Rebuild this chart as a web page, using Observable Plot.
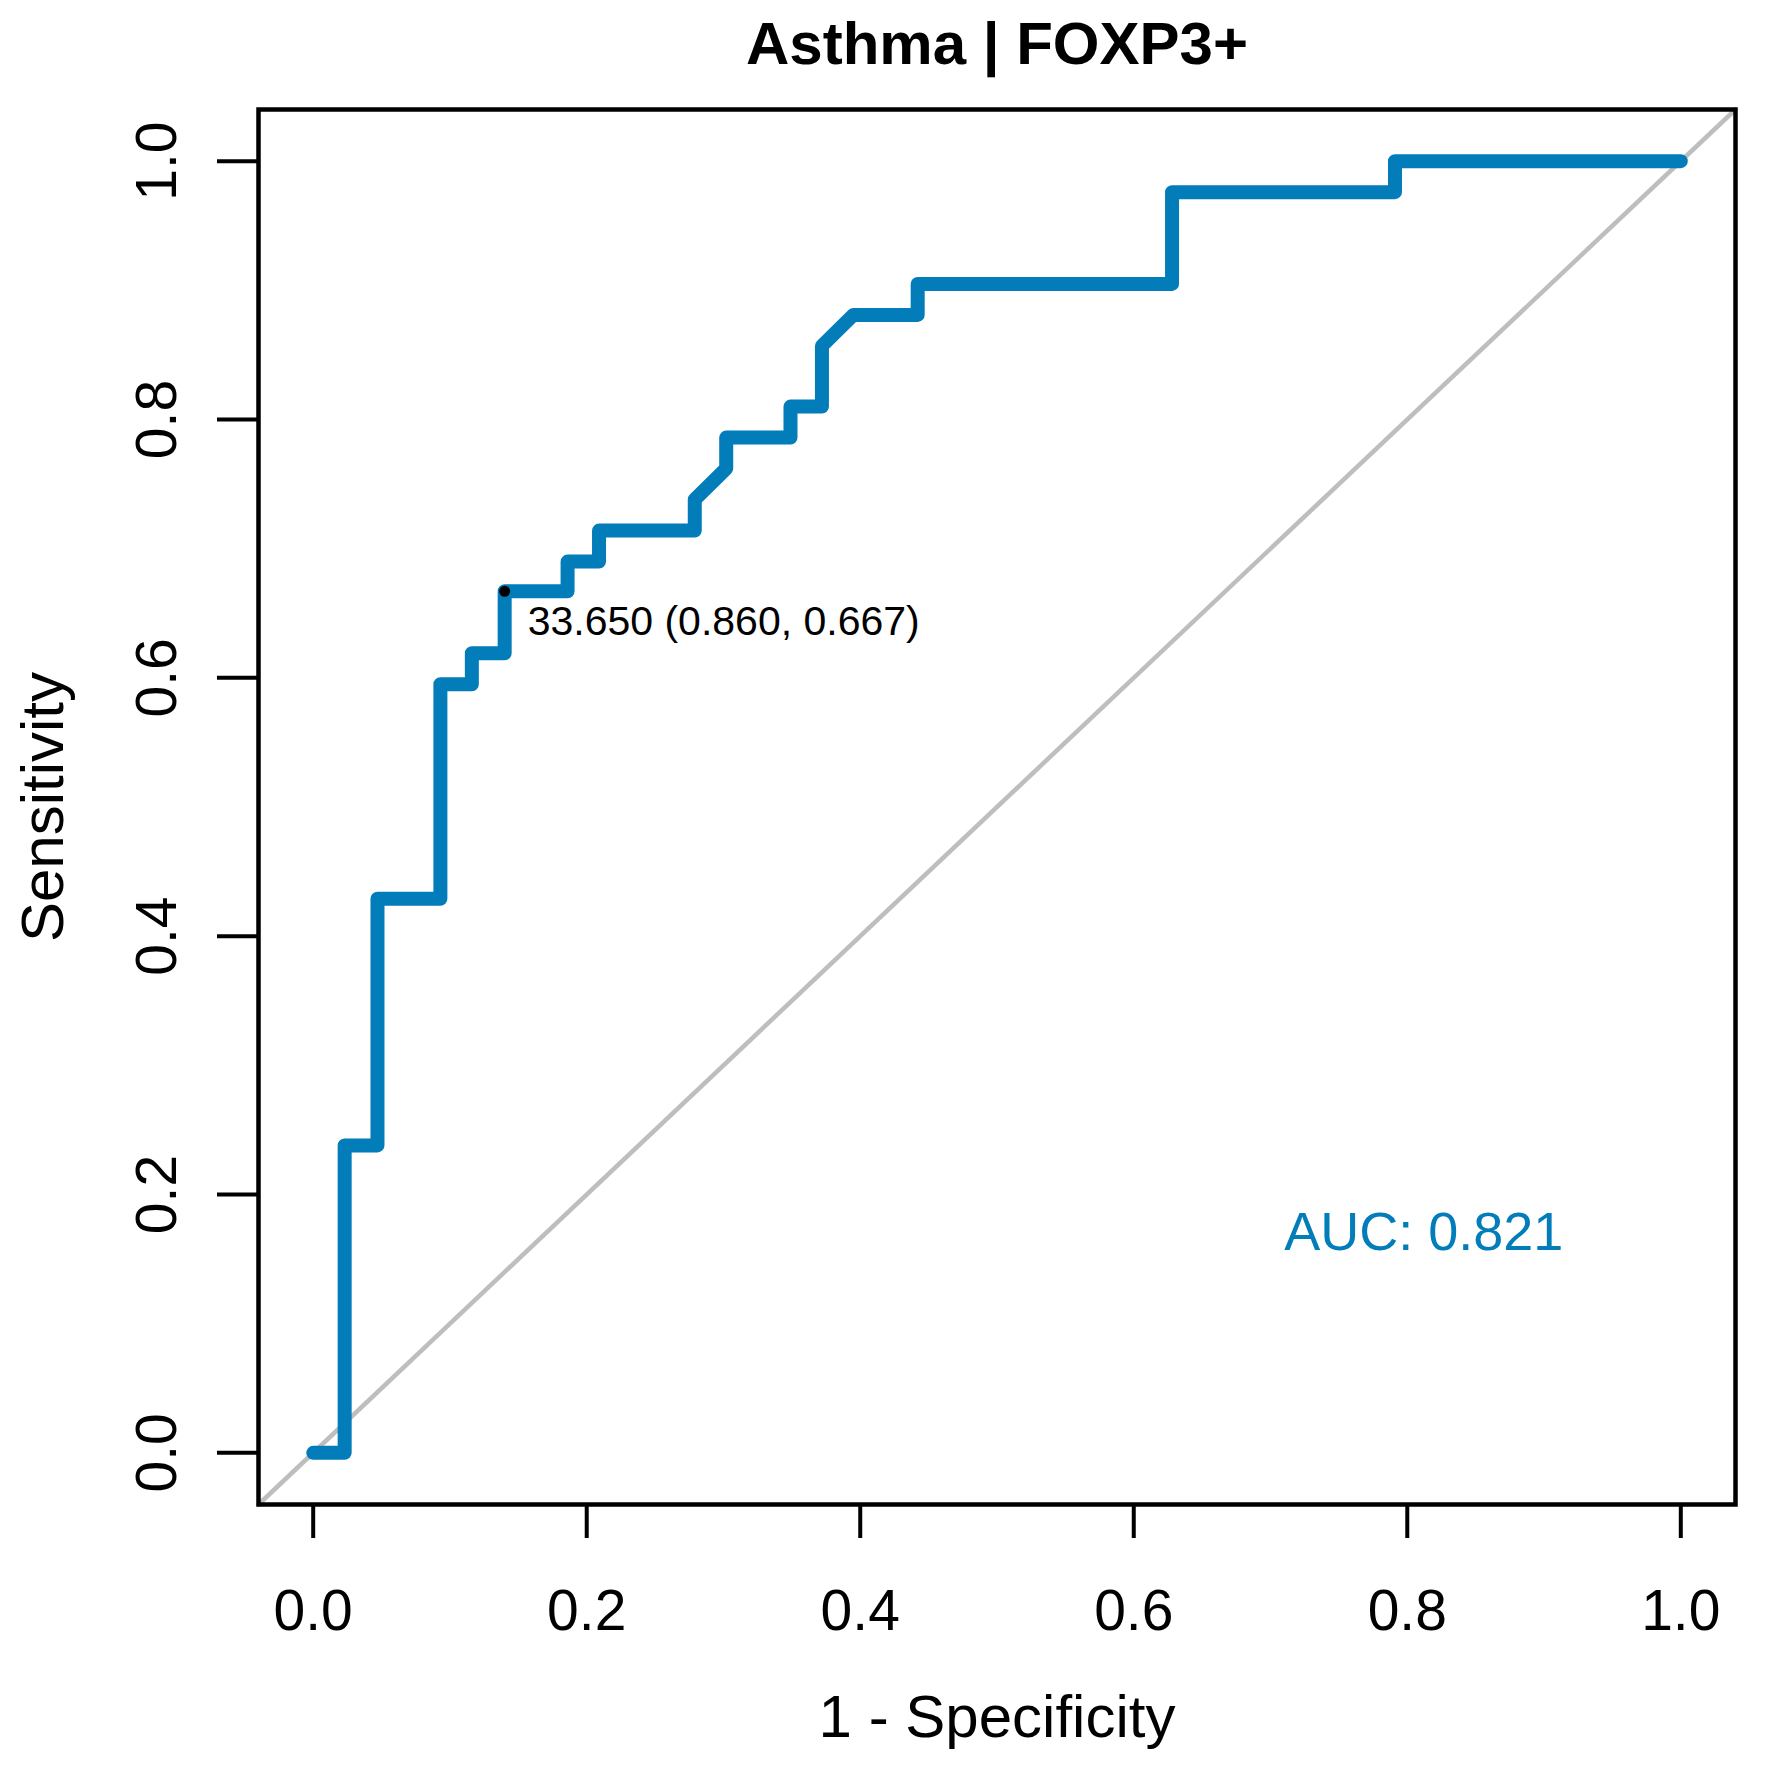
<!DOCTYPE html>
<html>
<head>
<meta charset="utf-8">
<script src="https://cdn.jsdelivr.net/npm/d3@7"></script>
<script src="https://cdn.jsdelivr.net/npm/@observablehq/plot@0.6"></script>
<style>
  html, body { margin: 0; padding: 0; background: #ffffff; }
</style>
</head>
<body>
<div id="chart"></div>
<script>
// ROC curve vertices (1 - specificity, sensitivity)
const fpr = [0.000, 0.023, 0.023, 0.047, 0.047, 0.093, 0.093, 0.116, 0.116, 0.140, 0.140,
             0.186, 0.186, 0.209, 0.209, 0.279, 0.279, 0.302, 0.302, 0.349, 0.349, 0.372,
             0.372, 0.395, 0.442, 0.442, 0.628, 0.628, 0.791, 0.791, 1.000];
const tpr = [0.000, 0.000, 0.238, 0.238, 0.429, 0.429, 0.595, 0.595, 0.619, 0.619, 0.667,
             0.667, 0.690, 0.690, 0.714, 0.714, 0.738, 0.762, 0.786, 0.786, 0.810, 0.810,
             0.857, 0.881, 0.881, 0.905, 0.905, 0.976, 0.976, 1.000, 1.000];

const xTicks = [0.0, 0.2, 0.4, 0.6, 0.8, 1.0];
const yTicks = [0.0, 0.2, 0.4, 0.6, 0.8, 1.0];
const axisDomain = [-0.04, 1.04];

const thresholdPoint = [{x: 0.140, y: 0.667, label: "33.650 (0.860, 0.667)"}];
const aucLabel = [{x: 0.71, y: 0.157, label: "AUC: 0.821"}];

const titleText = ["Asthma | FOXP3+"];
const xLabelText = ["1 - Specificity"];
const yLabelText = ["Sensitivity"];

const blue = "#027DBA";
const grey = "#BEBEBE";

const rocData = fpr.map((x, i) => ({x, y: tpr[i]}));
const diagData = axisDomain.map(d => ({x: d, y: d}));
const fmt = d => d.toFixed(1);

const chart = Plot.plot({
  width: 1769,
  height: 1769,
  marginLeft: 258,
  marginRight: 34,
  marginTop: 109,
  marginBottom: 265,
  style: {
    fontFamily: "'Liberation Sans', Arial, Helvetica, sans-serif",
    color: "black",
    background: "white"
  },
  x: {domain: axisDomain, label: null},
  y: {domain: axisDomain, label: null},
  marks: [
    Plot.line(diagData, {x: "x", y: "y", stroke: grey, strokeWidth: 4.5}),
    Plot.line(rocData, {x: "x", y: "y", stroke: blue, strokeWidth: 14,
                        strokeLinejoin: "round", strokeLinecap: "round"}),
    Plot.dot(thresholdPoint, {x: "x", y: "y", r: 5.5, fill: "black"}),
    Plot.text(thresholdPoint, {x: "x", y: "y", text: "label", dx: 23, dy: 44,
                               textAnchor: "start", lineAnchor: "bottom", fontSize: 41, fill: "black"}),
    Plot.text(aucLabel, {x: "x", y: "y", text: "label", textAnchor: "start",
                         lineAnchor: "bottom", fontSize: 54, fill: blue}),
    Plot.frame({stroke: "black", strokeWidth: 4.5}),
    Plot.axisX(xTicks, {tickSize: 34, tickPadding: 51, fontSize: 57, tickFormat: fmt,
                        strokeWidth: 4, label: null}),
    Plot.axisY(yTicks, {tickSize: 41, tickPadding: 42, tickRotate: -90, fontSize: 57,
                        tickFormat: fmt, strokeWidth: 4, label: null}),
    Plot.text(titleText, {text: d => d, frameAnchor: "top", dy: -46, lineAnchor: "bottom",
                          fontSize: 60, fontWeight: "bold"}),
    Plot.text(xLabelText, {text: d => d, frameAnchor: "bottom", dy: 232, lineAnchor: "bottom",
                           fontSize: 60}),
    Plot.text(yLabelText, {text: d => d, frameAnchor: "left", dx: -196, rotate: -90,
                           textAnchor: "middle", lineAnchor: "bottom", fontSize: 60})
  ]
});

document.getElementById("chart").appendChild(chart);
</script>
</body>
</html>
